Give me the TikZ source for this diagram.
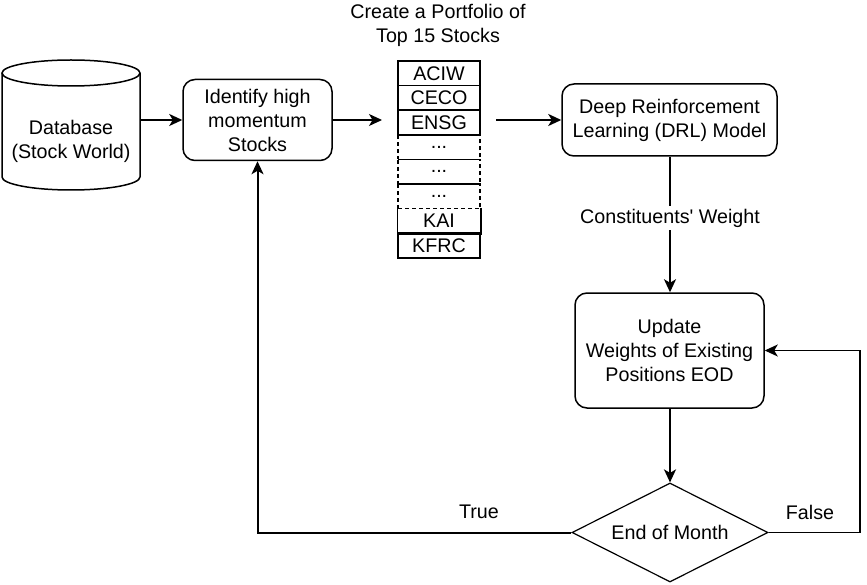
\documentclass[tikz,border=0pt]{standalone}
\usepackage{fontspec}
\setmainfont{Liberation Sans}
\usetikzlibrary{shapes.geometric,arrows.meta}
\begin{document}
\begin{tikzpicture}[x=1pt,y=-1pt,
  txt/.style={font=\fontsize{19.7}{24}\selectfont, align=center, inner sep=0pt},
  rbox/.style={txt, draw, line width=1.5pt, rounded corners=12pt, fill=white},
  cell/.style={txt, draw, line width=1.5pt, minimum width=82pt, minimum height=24.6pt},
  dcell/.style={cell, dashed, line width=1.4pt, dash pattern=on 4pt off 3pt},
  arr/.style={line width=2pt, -{Stealth[length=13pt,width=12pt,inset=3.5pt]}},
  tarr/.style={line width=1.2pt, -{Stealth[length=13pt,width=12pt,inset=3.5pt]}},
  line/.style={line width=2pt},
  tline/.style={line width=1.2pt}
]
\useasboundingbox (0,0) rectangle (867,585);
\fill[white] (0,0) rectangle (867,585);

% cylinder
\draw[line width=1.5pt, fill=white] (2,73) -- (2,177) arc[start angle=180, end angle=0, x radius=69, y radius=13] -- (140,73);
\draw[line width=1.5pt] (71,73) ellipse[x radius=69, y radius=13];
\node[txt] (db) at (71,141.5) {Database\\(Stock World)};
\coordinate (dbE) at (140,120);

% identify
\node[rbox, minimum width=149pt, minimum height=81pt] (idf) at (257.5,120) {Identify high\\momentum\\Stocks};

% portfolio title
\node[txt] (title) at (438,25.5) {Create a Portfolio of\\Top 15 Stocks};

% stack
\node[cell] (c1) at (439,73.3) {ACIW};
\node[cell] (c2) at (439,97.9) {CECO};
\node[cell] (c3) at (439,122.5) {ENSG};
\node[dcell] (c4) at (439,147.1) {...};
\node[dcell] (c5) at (439,171.7) {...};
\node[dcell] (c6) at (439,196.3) {...};
\node[cell, draw=none] (c7) at (439,220.9) {KAI};
\draw[line width=1.5pt] (c7.north west) -- (c7.south west) -- (c7.south east) -- (c7.north east);
\node[cell] (c8) at (439,245.5) {KFRC};
\coordinate (stkin) at (382,120);
\coordinate (stkout) at (496,120);

% DRL
\node[rbox, minimum width=215pt, minimum height=72pt] (drl) at (669.5,120) {Deep Reinforcement\\Learning (DRL) Model};

% update
\node[rbox, minimum width=189pt, minimum height=115pt] (upd) at (669.5,350.5) {Update\\Weights of Existing\\Positions EOD};

% decision
\node[txt, draw, line width=1.2pt, diamond, aspect=1.98, minimum width=196pt, minimum height=99pt, fill=white] (dec) at (670,532.5) {End of Month};

% connectors
\draw[arr] (dbE) -- (idf.west);
\draw[tarr] (idf.east) -- (stkin);
\draw[arr] (stkout) -- (drl.west);
\draw[arr] (drl.south -| 670,0) -- (upd.north -| 670,0) node[txt, pos=0.4526, fill=white, inner sep=3pt] (cw) {Constituents\textquotesingle\ Weight};
\draw[arr] (upd.south -| 670,0) -- (dec.north);
\draw[arr] (dec.west) -| (idf.south);
\draw[tarr] (dec.east) -- (860,532.5) |- (upd.east);

% labels
\node[txt] (tl) at (479,512) {True};
\node[txt] (fl) at (810,512) {False};
\end{tikzpicture}
\end{document}
